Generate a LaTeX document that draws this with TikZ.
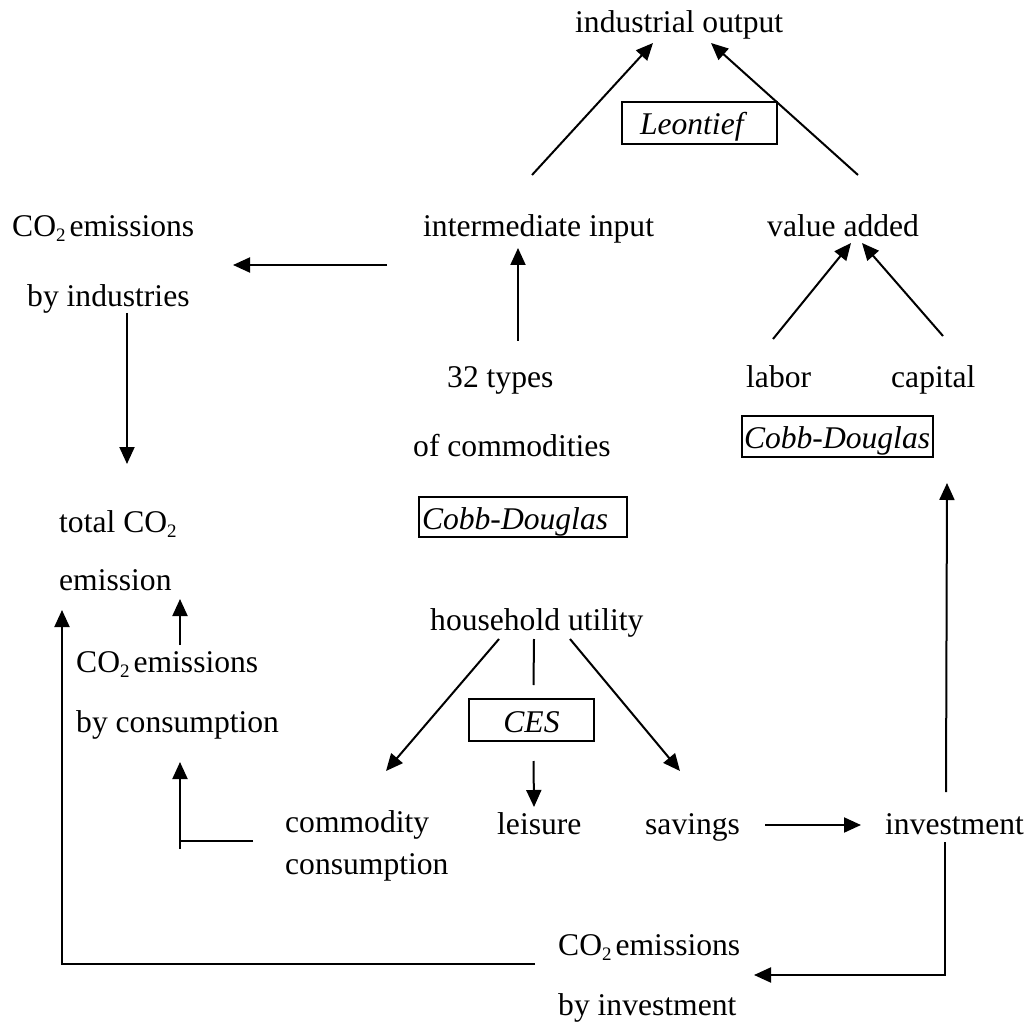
\documentclass[tikz,border=0pt]{standalone}
\usepackage{fontspec}
\setmainfont{Liberation Serif}
\usetikzlibrary{arrows.meta,calc}
\newcommand{\subtwo}{\raisebox{-5pt}{\fontsize{19pt}{19pt}\selectfont 2}}
\begin{document}
\begin{tikzpicture}[x=1pt,y=-1pt,
  lbl/.style={anchor=base west,inner sep=0pt,font=\fontsize{31.6pt}{36pt}\selectfont},
  fbox/.style={draw,line width=2pt,inner sep=0pt,text height=24pt,text depth=0pt,
     font=\fontsize{31.6pt}{36pt}\selectfont\itshape},
  conn/.style={line width=2pt},
  arr/.style={line width=2pt,-{Triangle[length=17pt,width=15pt]}}]
\useasboundingbox (0,0) rectangle (1031,1024);
% text nodes
\node[lbl] (io) at (575,33) {industrial output};
\node[lbl] (ii) at (423,237) {intermediate input};
\node[lbl] (va) at (767,237) {value added};
\node[lbl] (coi1) at (12,237) {CO\subtwo\hspace{4pt}emissions};
\node[lbl] (coi2) at (27,307) {by industries};
\node[lbl] (t32) at (447,388) {32 types};
\node[lbl] (ofc) at (413,456) {of commodities};
\node[lbl] (labor) at (746,387) {labor};
\node[lbl] (capital) at (891,387) {capital};
\node[lbl] (total) at (59,532) {total CO\subtwo};
\node[lbl] (emis) at (59,590) {emission};
\node[lbl] (hu) at (430,630) {household utility};
\node[lbl] (cc1) at (76,672) {CO\subtwo\hspace{4pt}emissions};
\node[lbl] (cc2) at (76,732) {by consumption};
\node[lbl] (comm) at (285,832) {commodity};
\node[lbl] (cons) at (285,874) {consumption};
\node[lbl] (leis) at (497,834) {leisure};
\node[lbl] (sav) at (645,834) {savings};
\node[lbl] (inv) at (885,834) {investment};
\node[lbl] (cv1) at (558,955) {CO\subtwo\hspace{4pt}emissions};
\node[lbl] (cv2) at (558,1015) {by investment};
% boxes
\node[fbox,minimum height=42pt] (leon) at (699.5,123) {\makebox[155pt][l]{\hspace{18pt}Leontief}};
\node[fbox,minimum height=41pt] (cdR) at (837.5,436.5) {\makebox[191pt][l]{\hspace{2pt}Cobb-Douglas}};
\node[fbox,minimum height=40pt] (cdM) at (523,517) {\makebox[208pt][l]{\hspace{3pt}Cobb-Douglas}};
\node[fbox,minimum height=42pt] (ces) at (531.5,720) {\makebox[125pt][c]{CES}};
% connectors
\draw[arr] ($(ii.base west)+(109,-62)$) -- ($(io.base west)+(78,10)$);
\draw[arr] ($(va.base west)+(91,-62)$) -- ($(io.base west)+(136,10)$);
\draw[arr] ($(ii.base west)+(-36,28)$) -- ($(coi1.base west)+(221,28)$);
\draw[arr] ($(coi2.base west)+(100,6)$) -- ($(total.base west)+(68,-68)$);
\draw[arr] ($(t32.base west)+(71,-47)$) -- ($(ii.base west)+(95,11)$);
\draw[arr] ($(labor.base west)+(27,-48)$) -- ($(va.base west)+(84,6)$);
\draw[arr] ($(capital.base west)+(52,-51)$) -- ($(va.base west)+(95,6)$);
\draw[arr] ($(inv.base west)+(61,-42)$) -- ($(cdR.south east)+(13,25)$);
\draw[arr] ($(inv.base west)+(60,8)$) |- ($(cv1.base west)+(196,20)$);
\draw[arr] ($(cv1.base west)+(-23,9)$) -| ($(emis.base west)+(3,20)$);
\draw[arr] ($(cc1.base west)+(104,-27)$) -- ($(emis.base west)+(121,9)$);
\draw[conn] ($(comm.base west)+(-32,9)$) -- ($(comm.base west)+(-105,9)$);
\draw[arr] ($(comm.base west)+(-105,17)$) -- ($(cc2.base west)+(104,30)$);
\draw[arr] ($(hu.base west)+(69,9)$) -- ($(comm.base west)+(101,-61)$);
\draw[conn] ($(hu.base west)+(104,9)$) -- ($(ces.north)+(2,-13)$);
\draw[arr] ($(ces.south)+(2,19)$) -- ($(leis.base west)+(37,-27)$);
\draw[arr] ($(hu.base west)+(140,9)$) -- ($(sav.base west)+(35,-63)$);
\draw[arr] ($(sav.base west)+(120,-9)$) -- ($(inv.base west)+(-24,-9)$);
\end{tikzpicture}
\end{document}
